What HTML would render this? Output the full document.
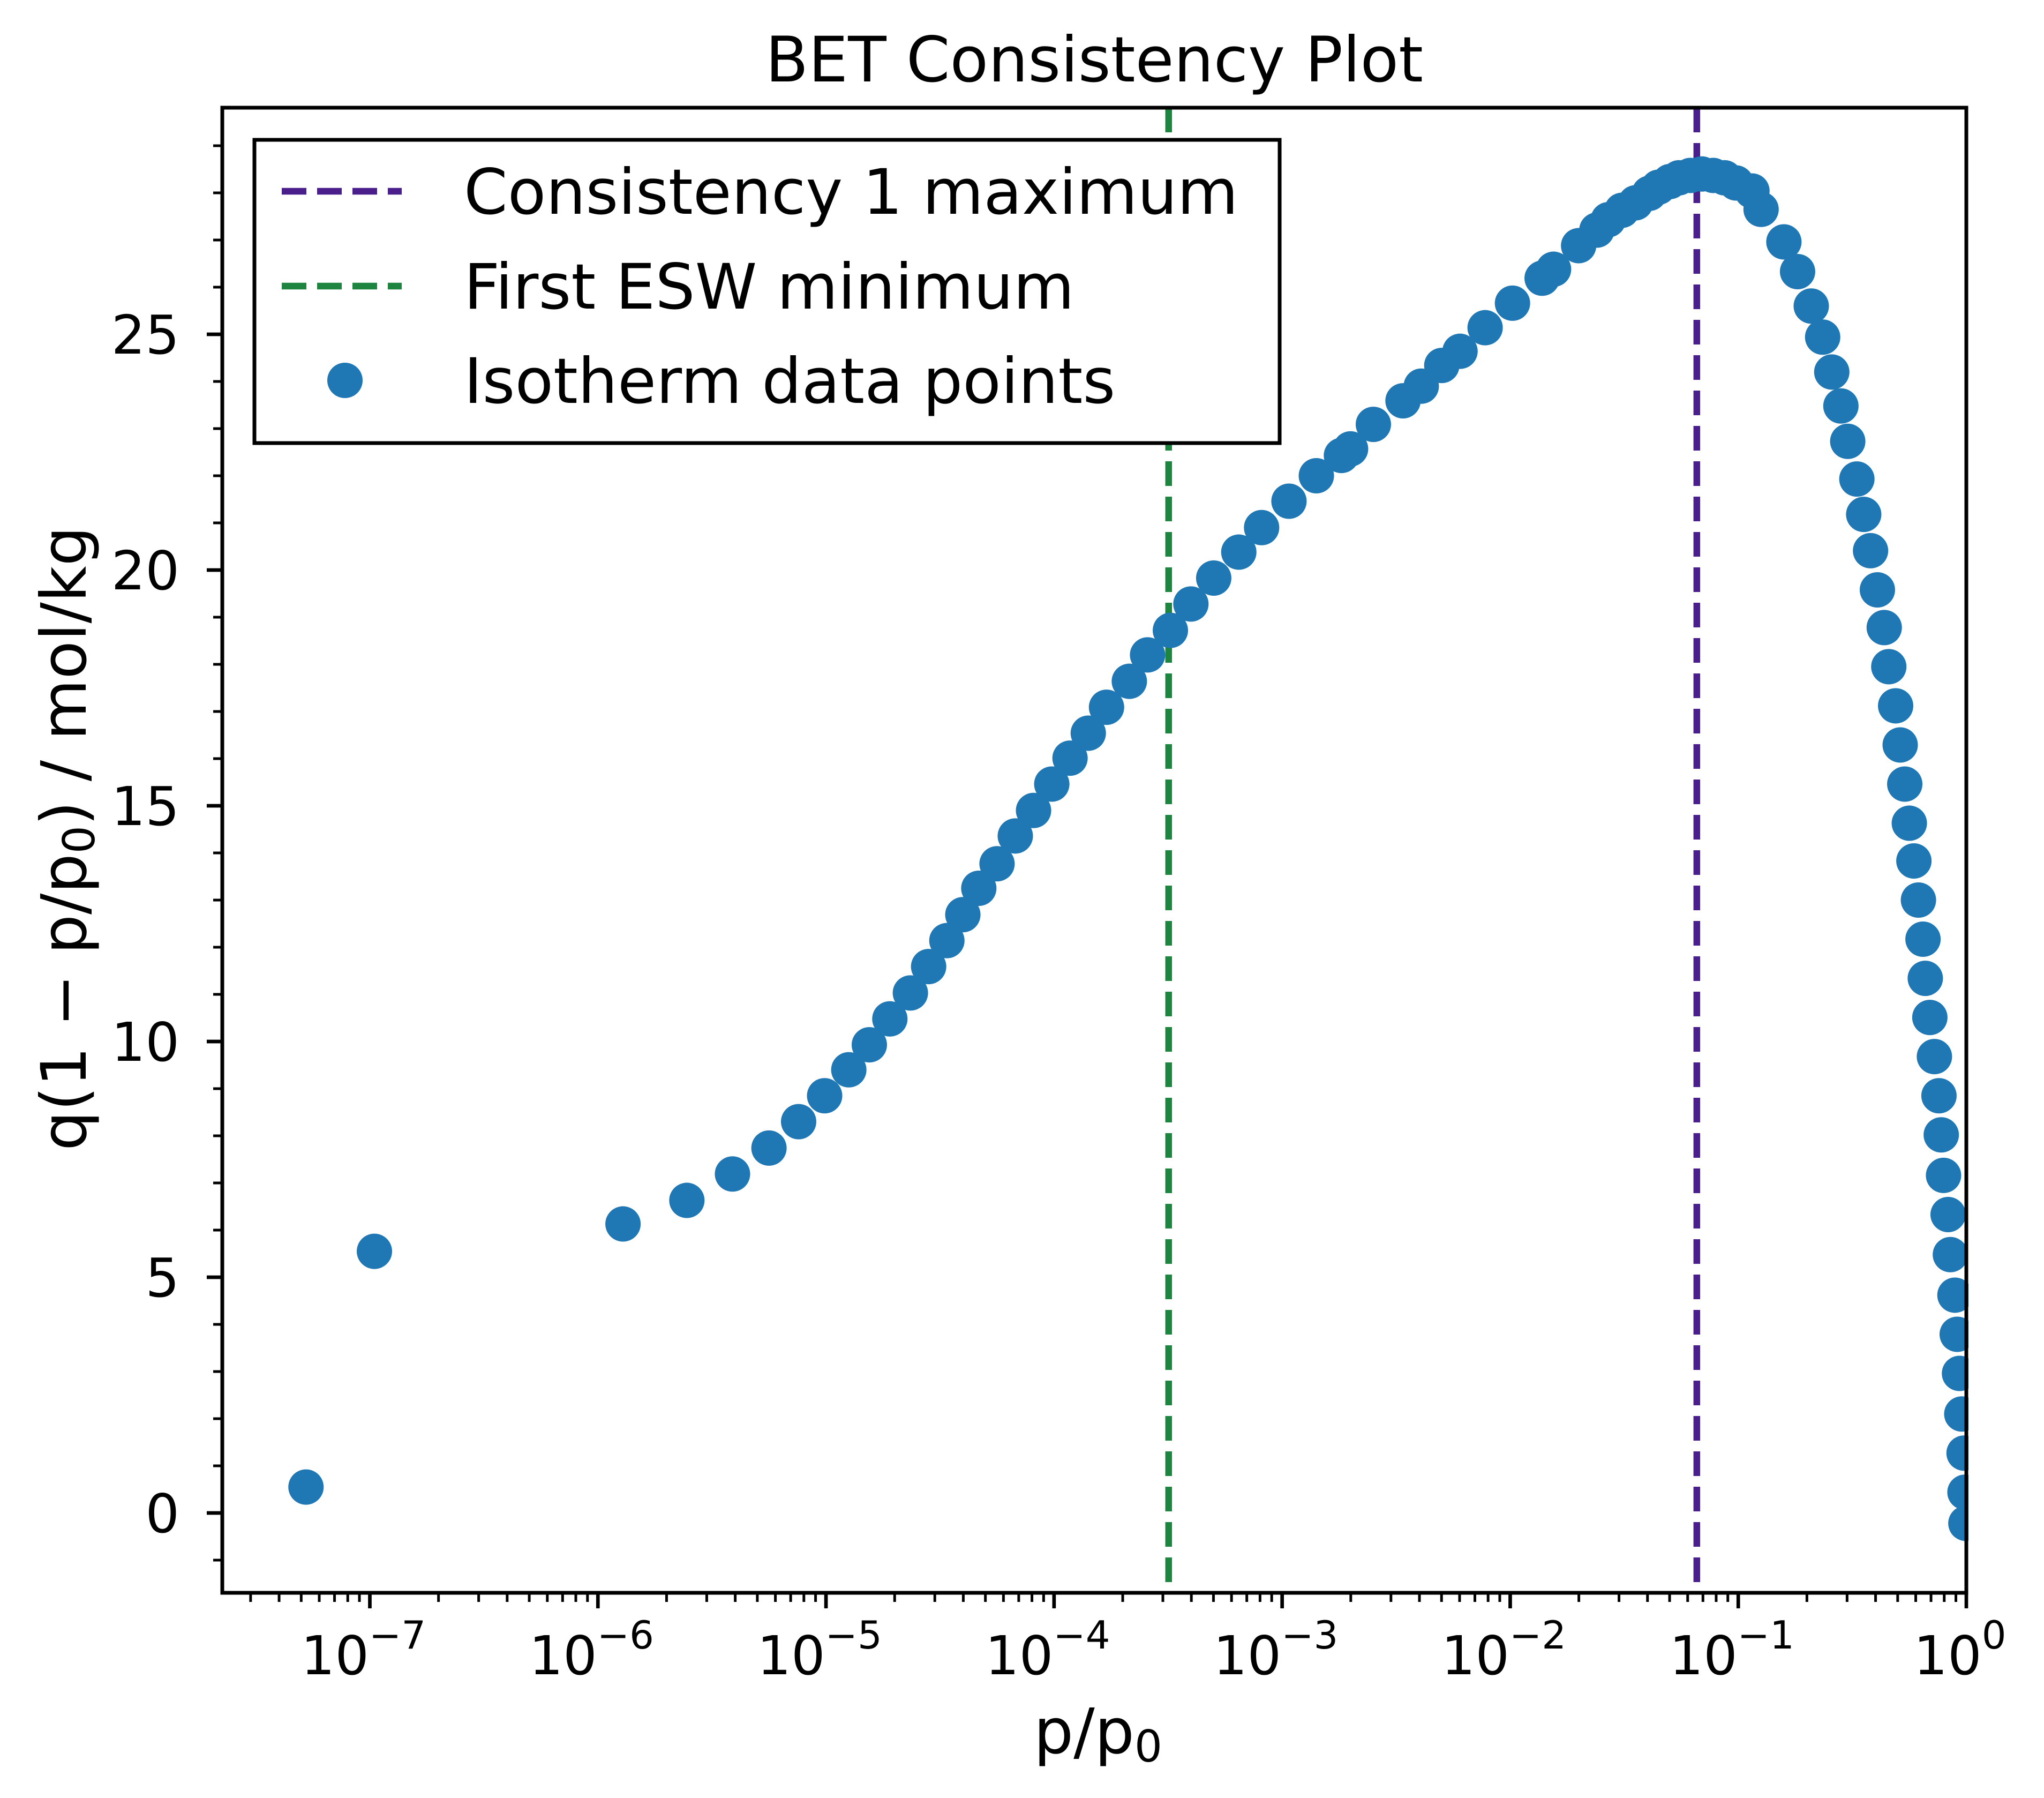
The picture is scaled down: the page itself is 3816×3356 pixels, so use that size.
<!DOCTYPE html>
<html><head><meta charset="utf-8"><style>
html,body{margin:0;padding:0;background:#fff;}
svg{display:block;font-family:"DejaVu Sans","Liberation Sans",sans-serif;}
</style></head><body>
<svg id="chart" width="3816" height="3356" viewBox="0 0 3816 3356" xmlns="http://www.w3.org/2000/svg">
<rect width="3816" height="3356" fill="#fff"/>
<text x="2043" y="152" font-size="117" text-anchor="middle">BET Consistency Plot</text>
<g id="plot"></g>
<text x="2050" y="3272" font-size="117" text-anchor="middle">p/p<tspan font-size="82" dy="16">0</tspan></text>
<text transform="translate(160,1565) rotate(-90)" font-size="117" text-anchor="middle">q(1 − p/p<tspan font-size="82" dy="16">0</tspan><tspan dy="-16">) / mol/kg</tspan></text>
</svg>
<script>
const logP=[-7.28,-6.98,-5.89,-5.61,-5.41,-5.25,-5.12,-5.006,-4.90,-4.81,-4.72,-4.63,-4.55,-4.47,-4.40,-4.33,-4.25,-4.17,-4.09,-4.01,-3.93,-3.85,-3.77,-3.67,-3.59,-3.49,-3.40,-3.30,-3.19,-3.09,-2.97,-2.85,-2.74,-2.70,-2.60,-2.47,-2.39,-2.30,-2.22,-2.11,-1.99,-1.86,-1.81,-1.70,-1.62,-1.57,-1.51,-1.45,-1.39,-1.35,-1.30,-1.26,-1.21,-1.16,-1.11,-1.06,-1.01,-0.94,-0.90,-0.80,-0.74,-0.68,-0.63,-0.59,-0.55,-0.52,-0.48,-0.45,-0.42,-0.39,-0.36,-0.34,-0.31,-0.29,-0.27,-0.25,-0.23,-0.21,-0.19,-0.18,-0.16,-0.14,-0.12,-0.11,-0.10,-0.08,-0.07,-0.05,-0.04,-0.03,-0.02,-0.01,-0.006,-0.002];
const qVals=[0.55,5.55,6.13,6.63,7.19,7.74,8.3,8.85,9.4,9.93,10.48,11.03,11.59,12.14,12.69,13.25,13.77,14.36,14.9,15.46,16.01,16.54,17.09,17.64,18.2,18.72,19.28,19.83,20.38,20.9,21.46,22.0,22.43,22.57,23.09,23.59,23.9,24.34,24.64,25.14,25.66,26.19,26.38,26.88,27.21,27.43,27.63,27.79,27.99,28.12,28.24,28.32,28.37,28.4,28.37,28.32,28.21,28.04,27.65,26.96,26.33,25.6,24.94,24.2,23.48,22.73,21.93,21.18,20.41,19.58,18.78,17.95,17.12,16.29,15.46,14.63,13.83,13.0,12.17,11.34,10.51,9.68,8.85,8.02,7.16,6.33,5.48,4.62,3.79,2.96,2.1,1.27,0.44,-0.22];
const xDecades=[-7,-6,-5,-4,-3,-2,-1,0];
const yTicks=[0,5,10,15,20,25];
const consistencyMax=0.0658;
const eswMin=3.18e-4;

const L=415,R=3671,T=201,B=2973;
const xMinLog=-7.647,xMaxLog=0;
function sx(lg){return L+(lg-xMinLog)/(xMaxLog-xMinLog)*(R-L);}
function sy(v){return 2824-(v)*88.0;}
const NS="http://www.w3.org/2000/svg";
const g=document.getElementById('plot');
function el(tag,attrs,parent){const e=document.createElementNS(NS,tag);for(const k in attrs)e.setAttribute(k,attrs[k]);(parent||g).appendChild(e);return e;}

const vl1=el('line',{x1:sx(Math.log10(consistencyMax)),x2:sx(Math.log10(consistencyMax)),y1:T,y2:B,stroke:'#4b1f8b','stroke-width':12.5,'stroke-dasharray':'46 20'});


const vl2=el('line',{x1:sx(Math.log10(eswMin)),x2:sx(Math.log10(eswMin)),y1:T,y2:B,stroke:'#1e8540','stroke-width':12.5,'stroke-dasharray':'46 20'});



for(let i=0;i<logP.length;i++){
  const c=el('circle',{cx:sx(logP[i]),cy:sy(qVals[i]),r:33,fill:'#1f77b4'});
  
  
}
el('rect',{x:R+4,y:T,width:3816-R,height:B-T,fill:'#fff'});

for(const d of xDecades){
  const x=sx(d);
  el('line',{x1:x,x2:x,y1:B,y2:B+29,stroke:'#000','stroke-width':6.7});
  const t=el('text',{x:x-12,y:3125,'font-size':100,'text-anchor':'middle'});
  
  
  t.textContent='10';
  const s=el('tspan',{'font-size':72,dy:-48},t);
  s.textContent=d===0?'0':'−'+(-d);
  for(let m=2;m<=9;m++){
    const lg=d-1+Math.log10(m);
    if(lg<xMinLog)continue;
    const mx=sx(lg);
    el('line',{x1:mx,x2:mx,y1:B,y2:B+17,stroke:'#000','stroke-width':5});
  }
}
for(const v of yTicks){
  const y=sy(v);
  el('line',{x1:L,x2:L-29,y1:y,y2:y,stroke:'#000','stroke-width':6.7});
  const t=el('text',{x:335,y:y+36,'font-size':100,'text-anchor':'end'});
  
  
  t.textContent=String(v);
}
for(let v=-1;v<=29;v++){
  if(v%5===0)continue;
  const y=sy(v);
  el('line',{x1:L,x2:L-17,y1:y,y2:y,stroke:'#000','stroke-width':5});
}
const fr=el('rect',{x:L,y:T,width:R-L,height:B-T,fill:'none',stroke:'#000','stroke-width':7});



const lg=el('g',{});


el('rect',{x:475,y:261,width:1914,height:566,fill:'#fff',stroke:'#000','stroke-width':7},lg);
const entries=[['Consistency 1 maximum','#4b1f8b','line',357],['First ESW minimum','#1e8540','line',534],['Isotherm data points','#1f77b4','dot',710]];
for(const [lab,col,kind,y] of entries){
  const e=el('g',{},lg);
  
  
  if(kind==='line') el('line',{x1:526,x2:750,y1:y,y2:y,stroke:col,'stroke-width':12.5,'stroke-dasharray':'46 20'},e);
  else el('circle',{cx:644,cy:y,r:33,fill:col},e);
  const t=el('text',{x:866,y:y+42,'font-size':117},e);
  t.textContent=lab;
}
</script>
</body></html>
